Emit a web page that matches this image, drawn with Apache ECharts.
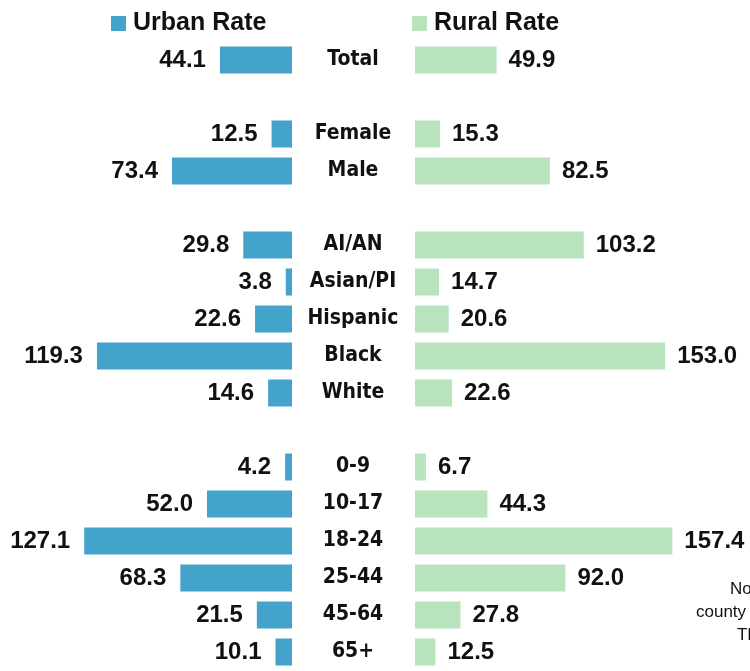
<!DOCTYPE html>
<html><head><meta charset="utf-8">
<script src="https://cdn.jsdelivr.net/npm/echarts@6/dist/echarts.min.js"></script>
<style>html,body{margin:0;padding:0;background:#fff}#c{width:750px;height:671px}</style>
</head><body><div id="c"></div>
<script>
const categories = ['Total','','Female','Male',' ','AI/AN','Asian/PI','Hispanic','Black','White','  ','0-9','10-17','18-24','25-44','45-64','65+'];
const urbanRate = [44.1,null,12.5,73.4,null,29.8,3.8,22.6,119.3,14.6,null,4.2,52.0,127.1,68.3,21.5,10.1];
const ruralRate = [49.9,null,15.3,82.5,null,103.2,14.7,20.6,153.0,22.6,null,6.7,44.3,157.4,92.0,27.8,12.5];
const seriesNames = ['Urban Rate','Rural Rate'];
const noteLines = ['Note: Rates per 100,000 population', 'county classification based on NCHS urban-rural scheme', 'The rates are age-adjusted'];

const URBAN = '#43A3CB', RURAL = '#B8E4BD';
const AXMAX = 178.6;
const SANS = "'Liberation Sans', Arial, Helvetica, sans-serif";
const NARROW = "'Liberation Sans Narrow', 'Arial Narrow', 'DejaVu Sans Condensed', sans-serif";
const valFont = {fontFamily:SANS, fontWeight:'bold', fontSize:24, color:'#111', padding:[2,0,0,0]};
const chart = echarts.init(document.getElementById('c'), null, {renderer:'canvas'});
const fmt = p => p.value == null ? '' : Number(p.value).toFixed(1);
const legendText = {fontFamily:SANS, fontWeight:'bold', fontSize:25, color:'#111', padding:[0,0,0,2]};
chart.setOption({
  animation:false,
  backgroundColor:'#fff',
  legend:[
    {left:111, top:11, padding:0, icon:'rect', itemWidth:15, itemHeight:15, data:[seriesNames[0]], textStyle:legendText},
    {left:412, top:11, padding:0, icon:'rect', itemWidth:15, itemHeight:15, data:[seriesNames[1]], textStyle:legendText}
  ],
  grid:[
    {left:0, width:292, top:41.5, height:629},
    {left:415, width:292, top:41.5, height:629}
  ],
  xAxis:[
    {gridIndex:0, type:'value', min:0, max:AXMAX, inverse:true, show:false},
    {gridIndex:1, type:'value', min:0, max:AXMAX, show:false}
  ],
  yAxis:[
    {gridIndex:0, type:'category', data:categories, inverse:true, position:'right',
     axisLine:{show:false}, axisTick:{show:false},
     axisLabel:{align:'center', margin:61, padding:[5,0,0,0], fontFamily:NARROW, fontWeight:'bold', fontSize:21, color:'#111'}},
    {gridIndex:1, type:'category', data:categories, inverse:true, show:false}
  ],
  series:[
    {name:seriesNames[0], type:'bar', xAxisIndex:0, yAxisIndex:0, data:urbanRate, barWidth:27,
     itemStyle:{color:URBAN}, label:{show:true, position:'left', distance:14, formatter:fmt, ...valFont}},
    {name:seriesNames[1], type:'bar', xAxisIndex:1, yAxisIndex:1, data:ruralRate, barWidth:27,
     itemStyle:{color:RURAL}, label:{show:true, position:'right', distance:12, formatter:fmt, ...valFont}}
  ],
  graphic:[
    {type:'text', left:730, top:581, style:{text:noteLines[0], font:"17px 'Liberation Sans', Arial, sans-serif", fill:'#111'}},
    {type:'text', left:696, top:604, style:{text:noteLines[1], font:"17px 'Liberation Sans', Arial, sans-serif", fill:'#111'}},
    {type:'text', left:737, top:627, style:{text:noteLines[2], font:"17px 'Liberation Sans', Arial, sans-serif", fill:'#111'}}
  ]
});
</script></body></html>
